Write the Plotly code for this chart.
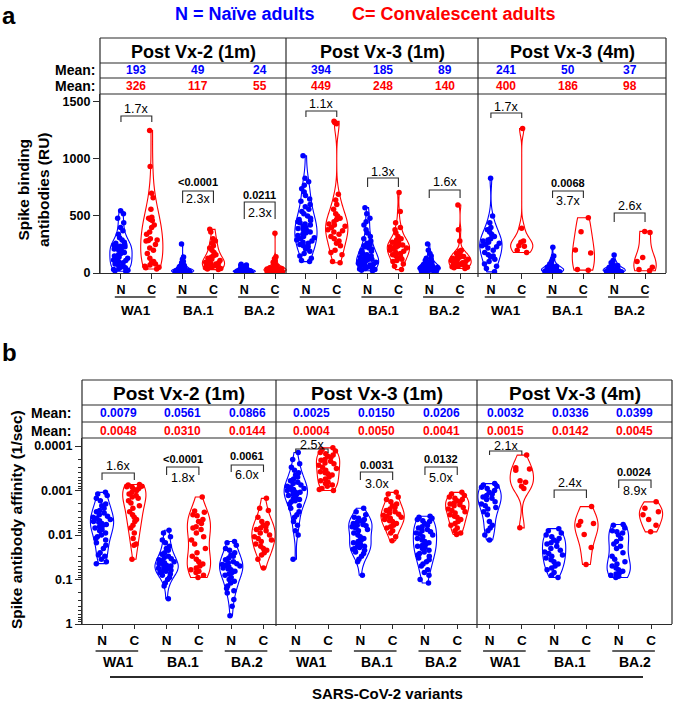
import numpy as np
import plotly.graph_objects as go

W, H = 673, 702
def px(x): return x / W
def py(y): return 1 - y / H

BLUE = "#0000FF"
RED = "#FF0000"
LINE = "#2b2b2b"
FONT = "Liberation Sans, Arial, sans-serif"

panel_titles = ["Post Vx-2 (1m)", "Post Vx-3 (1m)", "Post Vx-3 (4m)"]
variants = ["WA1", "BA.1", "BA.2"]
group_labels = ["N", "C"]

# ---- Panel a: Spike binding antibodies (RU) ----
bind_v2_WA1_N = [545, 520, 480, 440, 400, 370, 340, 310, 290, 270, 260, 250, 245, 240, 235, 230, 225, 220,
                 210, 200, 190, 180, 170, 160, 150, 140, 130, 120, 115, 110, 100, 90, 80, 70, 60, 50, 45,
                 40, 30, 25, 20, 15]
bind_v2_WA1_C = [1250, 935, 700, 660, 560, 490, 480, 470, 460, 420, 400, 360, 340, 300, 290, 285, 280, 250,
                 220, 200, 170, 130, 100, 90, 80, 70, 60, 50, 45, 35]
bind_v2_BA1_N = [254, 140, 120, 100, 90, 80, 70, 65, 60, 55, 50, 45, 42, 40, 38, 35, 32, 30, 28, 26, 25, 24,
                 22, 20, 19, 18, 17, 16, 15, 14, 13, 12, 11, 10, 10, 9, 8, 8, 7, 6]
bind_v2_BA1_C = [383, 360, 300, 280, 260, 240, 220, 200, 180, 160, 150, 140, 130, 120, 110, 100, 95, 90, 85,
                 80, 75, 70, 65, 60, 55, 50, 45, 40, 35, 30]
bind_v2_BA2_N = [76, 70, 65, 60, 55, 50, 45, 40, 38, 35, 32, 30, 28, 26, 24, 22, 20, 18, 17, 16, 15, 14, 13,
                 12, 11, 10, 9, 8, 7, 6, 5, 5]
bind_v2_BA2_C = [348, 143, 125, 110, 95, 80, 70, 60, 55, 50, 45, 42, 40, 38, 35, 32, 30, 28, 26, 24, 22, 20,
                 18, 16, 14, 12, 10, 8]
bind_v3a_WA1_N = [1029, 830, 800, 770, 740, 710, 680, 650, 630, 600, 580, 560, 540, 520, 500, 480, 470, 460,
                  450, 440, 430, 420, 410, 400, 390, 380, 370, 360, 350, 340, 330, 320, 310, 300, 290, 280,
                  270, 260, 250, 240, 230, 210, 190, 170, 150, 130, 110, 100]
bind_v3a_WA1_C = [1330, 1320, 1310, 690, 640, 600, 560, 520, 500, 480, 470, 450, 430, 420, 410, 400, 380, 370,
                  360, 340, 320, 300, 280, 260, 240, 200, 180, 160, 100, 90]
bind_v3a_BA1_N = [573, 520, 480, 450, 420, 380, 350, 320, 300, 280, 260, 250, 240, 230, 220, 210, 200, 190,
                  180, 170, 160, 150, 145, 140, 135, 130, 125, 120, 115, 110, 105, 100, 95, 90, 85, 80, 75,
                  70, 65, 60, 55, 50, 45, 40, 35, 30, 25, 20]
bind_v3a_BA1_C = [707, 540, 440, 400, 380, 350, 320, 300, 290, 280, 270, 260, 250, 245, 240, 235, 230, 225,
                  220, 210, 200, 190, 180, 170, 160, 150, 140, 130, 120, 110, 100, 80, 60, 30]
bind_v3a_BA2_N = [254, 200, 170, 150, 130, 120, 110, 100, 95, 90, 85, 80, 75, 70, 65, 60, 58, 55, 52, 50, 48,
                  45, 42, 40, 38, 35, 32, 30, 28, 25, 22, 20, 18, 15, 12, 10]
bind_v3a_BA2_C = [596, 380, 280, 200, 190, 180, 170, 160, 150, 145, 140, 135, 130, 125, 120, 115, 110, 100,
                  95, 90, 85, 80, 75, 70, 65, 60, 55, 50, 45, 40]
bind_v3b_WA1_N = [830, 500, 440, 400, 380, 360, 340, 320, 300, 290, 280, 270, 260, 250, 240, 230, 220, 200,
                  180, 160, 150, 140, 120, 100, 80, 60, 40, 10]
bind_v3b_WA1_C = [1268, 392, 280, 270, 240, 235, 200, 180]
bind_v3b_BA1_N = [225, 150, 120, 100, 80, 70, 60, 55, 50, 45, 40, 35, 30, 28, 25, 22, 20, 18, 15, 12, 10, 8]
bind_v3b_BA1_C = [485, 362, 202, 175, 30, 25]
bind_v3b_BA2_N = [158, 110, 90, 75, 65, 55, 50, 45, 40, 35, 30, 28, 25, 22, 20, 18, 15, 12, 10, 8]
bind_v3b_BA2_C = [365, 355, 135, 100, 50, 30, 20]

bind_groups = [bind_v2_WA1_N, bind_v2_WA1_C, bind_v2_BA1_N, bind_v2_BA1_C, bind_v2_BA2_N, bind_v2_BA2_C,
               bind_v3a_WA1_N, bind_v3a_WA1_C, bind_v3a_BA1_N, bind_v3a_BA1_C, bind_v3a_BA2_N, bind_v3a_BA2_C,
               bind_v3b_WA1_N, bind_v3b_WA1_C, bind_v3b_BA1_N, bind_v3b_BA1_C, bind_v3b_BA2_N, bind_v3b_BA2_C]

bind_mean_N = ["193", "49", "24", "394", "185", "89", "241", "50", "37"]
bind_mean_C = ["326", "117", "55", "449", "248", "140", "400", "186", "98"]
bind_fold = ["1.7x", "2.3x", "2.3x", "1.1x", "1.3x", "1.6x", "1.7x", "3.7x", "2.6x"]
bind_p = ["", "<0.0001", "0.0211", "", "", "", "", "0.0068", ""]
bind_ticks = [0, 500, 1000, 1500]

# ---- Panel b: Spike antibody affinity (1/sec) ----
aff_v2_WA1_N = [0.0011, 0.0012, 0.0013, 0.0015, 0.0017, 0.002, 0.0022, 0.0025, 0.0028, 0.003, 0.0032, 0.0035,
                0.0038, 0.004, 0.0042, 0.0045, 0.0048, 0.005, 0.0052, 0.0055, 0.0058, 0.006, 0.0065, 0.007,
                0.0075, 0.008, 0.009, 0.01, 0.011, 0.012, 0.013, 0.015, 0.017, 0.02, 0.025, 0.028, 0.03,
                0.035, 0.04, 0.044]
aff_v2_WA1_C = [0.00073, 0.00075, 0.0008, 0.00082, 0.00085, 0.0009, 0.00095, 0.001, 0.0011, 0.0012, 0.0013,
                0.0014, 0.0015, 0.0017, 0.0019, 0.0022, 0.0025, 0.003, 0.0035, 0.004, 0.0045, 0.005, 0.006,
                0.007, 0.009, 0.012, 0.016, 0.017, 0.035]
aff_v2_BA1_N = [0.0078, 0.009, 0.011, 0.013, 0.015, 0.018, 0.02, 0.022, 0.025, 0.027, 0.03, 0.032, 0.034,
                0.036, 0.038, 0.04, 0.042, 0.044, 0.046, 0.048, 0.05, 0.052, 0.054, 0.056, 0.058, 0.06, 0.062,
                0.065, 0.068, 0.07, 0.075, 0.08, 0.09, 0.1, 0.12, 0.14, 0.27]
aff_v2_BA1_C = [0.0014, 0.0029, 0.0031, 0.0035, 0.0037, 0.0045, 0.005, 0.0055, 0.0065, 0.007, 0.0075, 0.009,
                0.011, 0.013, 0.016, 0.02, 0.025, 0.03, 0.035, 0.04, 0.045, 0.05, 0.055, 0.06, 0.065, 0.07,
                0.08, 0.09]
aff_v2_BA2_N = [0.014, 0.015, 0.017, 0.02, 0.022, 0.025, 0.028, 0.03, 0.033, 0.036, 0.04, 0.042, 0.044, 0.046,
                0.048, 0.05, 0.052, 0.055, 0.058, 0.06, 0.065, 0.07, 0.075, 0.08, 0.09, 0.1, 0.11, 0.12, 0.14,
                0.16, 0.18, 0.2, 0.28, 0.4, 0.65]
aff_v2_BA2_C = [0.0015, 0.0025, 0.0028, 0.004, 0.005, 0.0055, 0.006, 0.0065, 0.007, 0.0075, 0.008, 0.009,
                0.01, 0.011, 0.012, 0.013, 0.014, 0.016, 0.018, 0.02, 0.022, 0.025, 0.028, 0.035, 0.055]
aff_v3a_WA1_N = [0.00014, 0.0002, 0.00025, 0.0003, 0.00035, 0.0004, 0.00045, 0.0005, 0.00055, 0.0006, 0.00065,
                 0.0007, 0.00075, 0.0008, 0.00085, 0.0009, 0.00095, 0.001, 0.001, 0.0011, 0.0011, 0.0012,
                 0.0012, 0.0013, 0.0014, 0.0015, 0.0016, 0.0017, 0.0018, 0.002, 0.0022, 0.0025, 0.003, 0.0035,
                 0.004, 0.005, 0.006, 0.008, 0.01, 0.035]
aff_v3a_WA1_C = [0.00011, 0.00012, 0.00013, 0.00014, 0.00015, 0.00016, 0.00017, 0.00018, 0.0002, 0.00021,
                 0.00022, 0.00024, 0.00025, 0.00027, 0.0003, 0.00032, 0.00035, 0.00038, 0.0004, 0.00042,
                 0.00045, 0.0005, 0.00055, 0.0006, 0.00065, 0.0007, 0.00075, 0.0008, 0.0009, 0.00095, 0.001]
aff_v3a_BA1_N = [0.0025, 0.003, 0.0035, 0.004, 0.0042, 0.0045, 0.0048, 0.005, 0.0052, 0.0055, 0.0058, 0.006,
                 0.0062, 0.0065, 0.007, 0.0075, 0.008, 0.009, 0.01, 0.011, 0.012, 0.013, 0.014, 0.015, 0.016,
                 0.017, 0.018, 0.019, 0.02, 0.021, 0.022, 0.024, 0.026, 0.03, 0.035, 0.04, 0.08]
aff_v3a_BA1_C = [0.0011, 0.0012, 0.0014, 0.0016, 0.0018, 0.002, 0.0022, 0.0024, 0.0026, 0.0028, 0.003, 0.0032,
                 0.0034, 0.0036, 0.0038, 0.004, 0.0042, 0.0045, 0.0048, 0.005, 0.0055, 0.006, 0.0065, 0.007,
                 0.008, 0.009, 0.011, 0.0135]
aff_v3a_BA2_N = [0.0038, 0.004, 0.0042, 0.0045, 0.0048, 0.005, 0.0055, 0.006, 0.0065, 0.007, 0.0075, 0.008,
                 0.0085, 0.009, 0.0095, 0.01, 0.011, 0.012, 0.013, 0.014, 0.015, 0.016, 0.017, 0.018, 0.019,
                 0.02, 0.022, 0.024, 0.026, 0.028, 0.03, 0.033, 0.036, 0.04, 0.045, 0.05, 0.06, 0.07, 0.08,
                 0.1, 0.12]
aff_v3a_BA2_C = [0.0011, 0.0012, 0.0013, 0.0014, 0.0015, 0.0016, 0.0017, 0.0018, 0.0019, 0.002, 0.0021, 0.0022,
                 0.0024, 0.0026, 0.0028, 0.003, 0.0032, 0.0035, 0.0038, 0.004, 0.0045, 0.005, 0.0055, 0.006,
                 0.007, 0.008, 0.009, 0.0097]
aff_v3b_WA1_N = [0.0007, 0.00075, 0.0008, 0.00085, 0.0009, 0.001, 0.0011, 0.0012, 0.0013, 0.0014, 0.0015,
                 0.0016, 0.0018, 0.002, 0.0022, 0.0024, 0.0026, 0.003, 0.0035, 0.005, 0.006, 0.007, 0.008,
                 0.01, 0.013]
aff_v3b_WA1_C = [0.00016, 0.00031, 0.00033, 0.00035, 0.0006, 0.00065, 0.0008, 0.0009, 0.0069]
aff_v3b_BA1_N = [0.0072, 0.008, 0.009, 0.01, 0.011, 0.012, 0.013, 0.014, 0.015, 0.016, 0.018, 0.02, 0.022,
                 0.024, 0.026, 0.028, 0.03, 0.033, 0.036, 0.04, 0.045, 0.05, 0.055, 0.06, 0.07, 0.08, 0.09]
aff_v3b_BA1_C = [0.0023, 0.005, 0.0055, 0.006, 0.0097, 0.019, 0.046]
aff_v3b_BA2_N = [0.0058, 0.006, 0.007, 0.008, 0.0085, 0.009, 0.01, 0.012, 0.014, 0.016, 0.018, 0.02, 0.025,
                 0.03, 0.035, 0.04, 0.045, 0.05, 0.055, 0.06, 0.065, 0.07, 0.075, 0.08, 0.085, 0.09]
aff_v3b_BA2_C = [0.0018, 0.0025, 0.003, 0.0035, 0.0045, 0.006, 0.0085]

aff_groups = [aff_v2_WA1_N, aff_v2_WA1_C, aff_v2_BA1_N, aff_v2_BA1_C, aff_v2_BA2_N, aff_v2_BA2_C,
              aff_v3a_WA1_N, aff_v3a_WA1_C, aff_v3a_BA1_N, aff_v3a_BA1_C, aff_v3a_BA2_N, aff_v3a_BA2_C,
              aff_v3b_WA1_N, aff_v3b_WA1_C, aff_v3b_BA1_N, aff_v3b_BA1_C, aff_v3b_BA2_N, aff_v3b_BA2_C]

aff_mean_N = ["0.0079", "0.0561", "0.0866", "0.0025", "0.0150", "0.0206", "0.0032", "0.0336", "0.0399"]
aff_mean_C = ["0.0048", "0.0310", "0.0144", "0.0004", "0.0050", "0.0041", "0.0015", "0.0142", "0.0045"]
aff_fold = ["1.6x", "1.8x", "6.0x", "2.5x", "3.0x", "5.0x", "2.1x", "2.4x", "8.9x"]
aff_p = ["", "<0.0001", "0.0061", "", "0.0031", "0.0132", "", "", "0.0024"]
aff_ticks = [0.0001, 0.001, 0.01, 0.1, 1]
aff_tick_labels = ["0.0001", "0.001", "0.01", "0.1", "1"]

fig = go.Figure()

def add_violins(groups, xa, ya, logscale):
    for i, vals in enumerate(groups):
        col = BLUE if i % 2 == 0 else RED
        yv = np.log10(vals) if logscale else vals
        fig.add_trace(go.Violin(
            x0=i, y=yv, xaxis=xa, yaxis=ya, name=f"{xa}_{i}",
            points="all", pointpos=0, jitter=0.85, width=0.72,
            scalemode="width", spanmode="hard",
            line=dict(color=col, width=1.1), fillcolor="rgba(0,0,0,0)",
            marker=dict(color=col, size=5.5, line=dict(width=0)),
            box_visible=False, meanline_visible=False, showlegend=False,
            hoveron="points"))

add_violins(bind_groups, "x", "y", False)
add_violins(aff_groups, "x2", "y2", True)

shapes = []
annotations = []

def hline(x0, x1, y, width=1.2, color=LINE, xref="paper"):
    if xref == "paper":
        shapes.append(dict(type="line", xref="paper", yref="paper", x0=px(x0), x1=px(x1), y0=py(y), y1=py(y),
                           line=dict(color=color, width=width)))
    else:
        shapes.append(dict(type="line", xref=xref, yref="paper", x0=x0, x1=x1, y0=py(y), y1=py(y),
                           line=dict(color=color, width=width)))

def vline(x, y0, y1, width=1.2, color=LINE):
    shapes.append(dict(type="line", xref="paper", yref="paper", x0=px(x), x1=px(x), y0=py(y0), y1=py(y1),
                       line=dict(color=color, width=width)))

def text(x, y, s, size, color="black", bold=False, xref="paper", xanchor="center", family=FONT, angle=0):
    annotations.append(dict(x=px(x) if xref == "paper" else x, y=py(y), xref=xref, yref="paper",
                            text=f"<b>{s}</b>" if bold else s, showarrow=False, xanchor=xanchor,
                            yanchor="middle", textangle=angle,
                            font=dict(size=size, color=color, family=family)))

def build_panel(cfg):
    L, R, T, rows, bottom, divs, div_bottoms = cfg["L"], cfg["R"], cfg["T"], cfg["rows"], cfg["bottom"], cfg["divs"], cfg["div_bottoms"]
    xref = cfg["xref"]
    hline(L, R, T)
    for r in rows:
        hline(L, R, r)
    vline(L, T, bottom)
    vline(R, T, bottom)
    for d, db in zip(divs, div_bottoms):
        vline(d, T, db)
    edges = [L] + divs + [R]
    for k in range(3):
        text((edges[k] + edges[k + 1]) / 2, (T + rows[0]) / 2 + 1, panel_titles[k], cfg["title_size"], bold=True)
    text(cfg["mean_x"], cfg["mean_y"][0], "Mean:", 14, bold=True, xanchor="right")
    text(cfg["mean_x"], cfg["mean_y"][1], "Mean:", 14, bold=True, xanchor="right")
    for k in range(9):
        text(2 * k + 0.5, cfg["mean_y"][0], cfg["mean_N"][k], 12, BLUE, True, xref=xref)
        text(2 * k + 0.5, cfg["mean_y"][1], cfg["mean_C"][k], 12, RED, True, xref=xref)
        # underline + variant
        hline(2 * k - 0.2, 2 * k + 1.12, cfg["under_y"], width=1.6, xref=xref)
        text(2 * k + 0.5, cfg["var_y"], variants[k % 3], cfg["var_size"], bold=True, xref=xref)
        # bracket
        g = cfg["geom"][k]
        x1, x2 = 2 * k, 2 * k + 1
        shapes.append(dict(type="path", xref=xref, yref="paper",
                           path=f"M {x1},{py(g['leg'])} L {x1},{py(g['top'])} L {x2},{py(g['top'])} L {x2},{py(g['leg'])}",
                           line=dict(color=LINE, width=1.1)))
        text(2 * k + 0.5, g["fold"], cfg["fold"][k], 12.5, xref=xref)
        if cfg["p"][k]:
            text(2 * k + 0.5, g["p"], cfg["p"][k], 11, bold=True, xref=xref)

geom_a = [dict(fold=109, top=116, leg=122), dict(p=182, top=191, leg=203, fold=199),
          dict(p=195, top=202, leg=219, fold=213), dict(fold=104, top=111, leg=117),
          dict(fold=172, top=178, leg=187), dict(fold=182, top=190, leg=198),
          dict(fold=107, top=113, leg=118), dict(p=183, top=191, leg=198, fold=201),
          dict(fold=206, top=213, leg=222)]
geom_b = [dict(fold=466, top=473, leg=480), dict(p=459, top=467, leg=475, fold=478),
          dict(p=456, top=465, leg=472, fold=475), dict(fold=445, top=449, leg=453),
          dict(p=465, top=472, leg=480, fold=484), dict(p=459, top=467, leg=475, fold=478),
          dict(fold=446, top=451, leg=455), dict(fold=483, top=490, leg=498),
          dict(p=472, top=480, leg=488, fold=491)]

build_panel(dict(L=100, R=666, T=38, rows=[63, 78, 94], bottom=273, divs=[286, 478], div_bottoms=[273, 277],
                 xref="x", title_size=18, mean_x=97, mean_y=[70.5, 86], mean_N=bind_mean_N, mean_C=bind_mean_C,
                 under_y=297, var_y=310, var_size=13.5, geom=geom_a, fold=bind_fold, p=bind_p))
build_panel(dict(L=82, R=672, T=380, rows=[405, 422, 438], bottom=624, divs=[276, 477], div_bottoms=[626, 628],
                 xref="x2", title_size=19, mean_x=73, mean_y=[413, 431], mean_N=aff_mean_N, mean_C=aff_mean_C,
                 under_y=651, var_y=662, var_size=14, geom=geom_b, fold=aff_fold, p=aff_p))

# big line + x title in panel b
hline(110, 643, 677, width=2)
text(388, 693, "SARS-CoV-2 variants", 15, bold=True)

# panel letters and legend title
text(9, 16, "a", 24, bold=True)
text(9, 353, "b", 24, bold=True)
text(244.5, 14, "N = Naïve adults", 18, BLUE, True)
text(454, 14, "C= Convalescent adults", 18, RED, True)

# axis titles
text(33, 190, "Spike binding<br>antibodies (RU)", 15.5, bold=True, angle=-90)
text(16, 520, "Spike antibody affinity (1/sec)", 15.5, bold=True, angle=-90)

minor_vals = [np.log10(m * 10.0 ** e) for e in range(-4, 0) for m in range(2, 10)]

axis_common = dict(showgrid=False, zeroline=False, showline=True, linecolor=LINE, linewidth=1.2,
                   ticks="outside", tickcolor=LINE, tickwidth=1.2, automargin=False)

fig.update_layout(
    width=W, height=H, margin=dict(l=0, r=0, t=0, b=0), autosize=False,
    paper_bgcolor="white", plot_bgcolor="white", violinmode="overlay",
    font=dict(family=FONT, color="black"),
    shapes=shapes, annotations=annotations,
    xaxis=dict(domain=[px(100), px(666)], range=[-0.68, 17.68], type="linear", anchor="y",
               tickvals=list(range(18)), ticktext=[f"<b>{g}</b>" for g in group_labels] * 9,
               ticklen=5, tickfont=dict(size=12.5), **axis_common),
    yaxis=dict(domain=[py(273), py(94)], range=[0, 1570], anchor="x",
               tickvals=bind_ticks, ticktext=[f"<b>{t}</b>" for t in bind_ticks],
               ticklen=6, tickfont=dict(size=12.5), **axis_common),
    xaxis2=dict(domain=[px(82), px(672)], range=[-0.62, 17.65], type="linear", anchor="y2",
                tickvals=list(range(18)), ticktext=[f"<b>{g}</b>" for g in group_labels] * 9,
                ticklen=4, tickfont=dict(size=13.5), **axis_common),
    yaxis2=dict(domain=[py(624), py(438)], range=[0, -4.18], anchor="x2",
                tickvals=[np.log10(t) for t in aff_ticks], ticktext=[f"<b>{t}</b>" for t in aff_tick_labels],
                ticklen=6, tickfont=dict(size=12.5),
                minor=dict(tickvals=minor_vals, ticks="outside", ticklen=3, tickcolor=LINE, showgrid=False),
                **axis_common),
)

fig.write_html("out.html", config={"displayModeBar": False},
               post_script="document.body.style.margin='0';document.body.style.overflow='hidden';")
